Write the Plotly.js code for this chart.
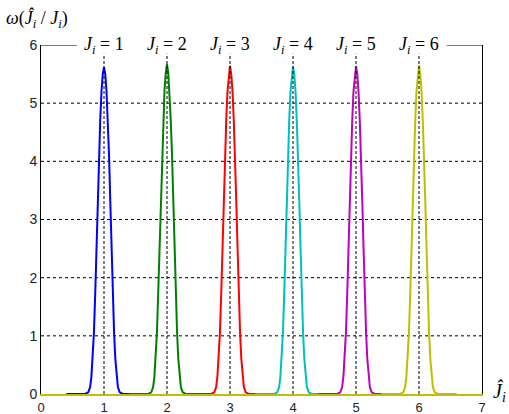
<!DOCTYPE html>
<html>
<head>
<meta charset="utf-8">
<script src="https://cdn.plot.ly/plotly-3.0.1.min.js"></script>
<style>html,body{margin:0;padding:0;background:#fff;}#chart{width:509px;height:414px;}</style>
</head>
<body>
<div id="chart"></div>
<script>
// Data
const centers = [1, 2, 3, 4, 5, 6];
const labels = ["1", "2", "3", "4", "5", "6"];
const colors = ["#0000ff", "#008000", "#ff0000", "#00bfbf", "#bf00bf", "#bfbf00"];
// offsets from each centre (x) and density values for each curve
const offsets = [-0.6, -0.30, -0.25, -0.22, -0.20, -0.18, -0.16, -0.14, -0.12, -0.10, -0.08, -0.06, -0.04, -0.02, 0, 0.02, 0.04, 0.06, 0.08, 0.10, 0.12, 0.14, 0.16, 0.18, 0.20, 0.22, 0.25, 0.30, 0.6];
const dens1 = [0, 0, 0.03, 0.12, 0.30, 0.60, 1.05, 1.70, 2.50, 3.30, 4.10, 4.70, 5.20, 5.50, 5.62, 5.50, 5.20, 4.70, 4.10, 3.30, 2.50, 1.70, 1.05, 0.60, 0.30, 0.12, 0.03, 0, 0];
const dens2 = [0, 0, 0.03, 0.12, 0.30, 0.62, 1.05, 1.72, 2.50, 3.32, 4.10, 4.72, 5.22, 5.52, 5.67, 5.52, 5.20, 4.70, 4.10, 3.30, 2.50, 1.70, 1.05, 0.60, 0.30, 0.12, 0.03, 0, 0];
const dens3 = [0, 0, 0.03, 0.12, 0.30, 0.60, 1.05, 1.70, 2.50, 3.30, 4.12, 4.70, 5.20, 5.50, 5.64, 5.50, 5.20, 4.70, 4.10, 3.30, 2.52, 1.70, 1.05, 0.60, 0.30, 0.12, 0.03, 0, 0];
const dens4 = [0, 0, 0.03, 0.12, 0.30, 0.60, 1.05, 1.70, 2.50, 3.30, 4.10, 4.70, 5.20, 5.50, 5.63, 5.50, 5.20, 4.70, 4.10, 3.30, 2.50, 1.70, 1.05, 0.60, 0.30, 0.12, 0.03, 0, 0];
const dens5 = [0, 0, 0.03, 0.12, 0.30, 0.60, 1.05, 1.70, 2.50, 3.30, 4.10, 4.70, 5.20, 5.50, 5.63, 5.50, 5.20, 4.70, 4.10, 3.30, 2.50, 1.70, 1.05, 0.60, 0.30, 0.12, 0.03, 0, 0];
const dens6 = [0, 0, 0.03, 0.12, 0.30, 0.60, 1.05, 1.70, 2.50, 3.30, 4.10, 4.70, 5.20, 5.50, 5.65, 5.50, 5.20, 4.70, 4.10, 3.30, 2.50, 1.70, 1.05, 0.60, 0.30, 0.12, 0.03, 0, 0];
const densities = [dens1, dens2, dens3, dens4, dens5, dens6];
const xTicks = [0, 1, 2, 3, 4, 5, 6, 7];
const yTicks = [0, 1, 2, 3, 4, 5, 6];
const gridY = [1, 2, 3, 4, 5];

const serif = "Liberation Serif, Times New Roman, serif";

const traces = centers.map((c, k) => ({
  type: "scatter", mode: "lines",
  x: offsets.map(d => c + d),
  y: densities[k],
  line: {color: colors[k], width: 2},
  hoverinfo: "skip", showlegend: false
}));

const shapes = [];
gridY.forEach(v => shapes.push({type: "line", xref: "x", yref: "y", x0: 0, x1: 7, y0: v, y1: v,
  line: {color: "#000", width: 1, dash: "3px,3px"}, layer: "below"}));
centers.forEach(c => shapes.push({type: "line", xref: "x", yref: "y", x0: c, x1: c, y0: 0, y1: 5.85,
  line: {color: "#000", width: 1, dash: "3px,2px"}, layer: "above"}));
// top frame pieces (interrupted by the labels)
shapes.push({type: "line", xref: "x", yref: "y", x0: 0, x1: 0.57, y0: 6, y1: 6, line: {color: "#000", width: 1}});
shapes.push({type: "line", xref: "x", yref: "y", x0: 6.44, x1: 7, y0: 6, y1: 6, line: {color: "#000", width: 1}});

const annotations = centers.map((c, k) => ({
  xref: "x", yref: "y", x: c, y: 6, xanchor: "center", yanchor: "middle",
  text: "<i>J<sub>i</sub></i> = " + labels[k], showarrow: false,
  font: {family: serif, size: 18, color: "#000"}
}));
annotations.push({xref: "paper", yref: "paper", x: 0, y: 1, xanchor: "left", yanchor: "middle",
  xshift: -37, yshift: 26, showarrow: false,
  text: "<i>ω</i>(<i>Ĵ<sub>i</sub></i> / <i>J<sub>i</sub></i>)",
  font: {family: serif, size: 18, color: "#000"}});
annotations.push({xref: "paper", yref: "y", x: 1, y: 0, xanchor: "left", yanchor: "middle",
  xshift: 9, yshift: 2, showarrow: false,
  text: "<i>Ĵ<sub>i</sub></i>",
  font: {family: serif, size: 20, color: "#000"}});

const layout = {
  width: 509, height: 414,
  margin: {l: 41, r: 27, t: 45, b: 20, pad: 0},
  paper_bgcolor: "#fff", plot_bgcolor: "#fff",
  showlegend: false,
  xaxis: {range: [0, 7], tickvals: xTicks, ticktext: xTicks.map(String), showgrid: false, zeroline: false,
    showline: true, linecolor: "#bfbf00", linewidth: 2, ticks: "", layer: "below traces",
    tickfont: {family: "Liberation Sans, Arial, sans-serif", size: 13, color: "#222"}},
  yaxis: {range: [0, 6], tickvals: yTicks, ticktext: yTicks.map(String), showgrid: false, zeroline: false,
    showline: true, mirror: true, linecolor: "#000", linewidth: 1, ticks: "",
    tickfont: {family: "Liberation Sans, Arial, sans-serif", size: 14, color: "#222"}},
  shapes: shapes,
  annotations: annotations
};

Plotly.newPlot("chart", traces, layout, {staticPlot: true, displayModeBar: false});
</script>
</body>
</html>
